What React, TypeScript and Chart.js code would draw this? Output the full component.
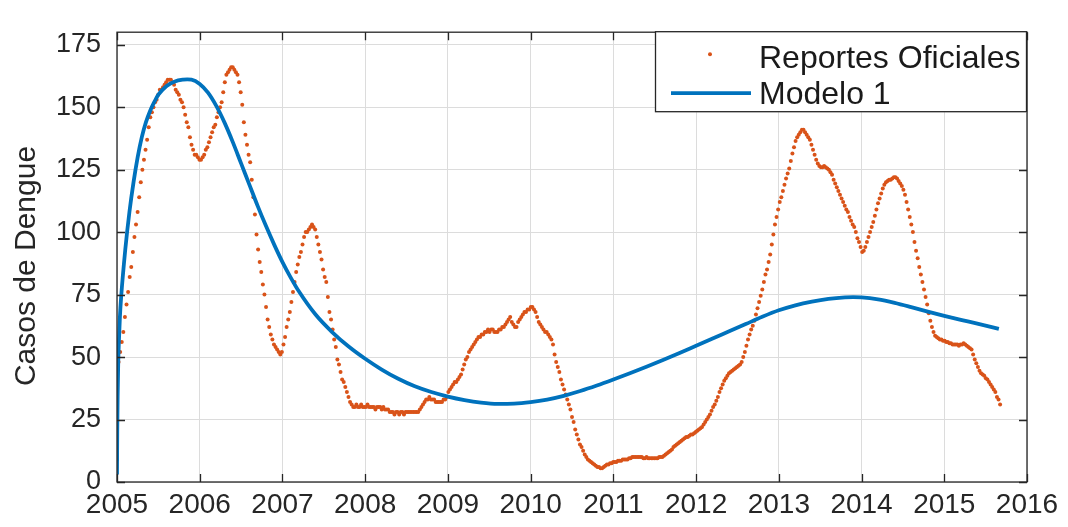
import React, { useEffect, useRef } from 'react';
import { Chart, registerables } from 'chart.js';

Chart.register(...registerables);

// Weekly official dengue reports, first week of 2005 onwards
const START_YEAR = 2005;
const WEEK_IN_YEARS = 7 / 365.25;

const reportes: number[] = [
  44, 48, 52, 56, 60, 66, 71, 76, 82, 86,
  92, 98, 103, 108, 114, 120, 125, 129, 133, 137,
  142, 146, 148, 150, 152, 153, 155, 157, 157, 158,
  159, 160, 161, 161, 161, 160, 159, 157, 156, 155,
  153, 152, 150, 147, 144, 142, 138, 135, 133, 131,
  131, 130, 129, 129, 130, 131, 133, 134, 136, 138,
  140, 142, 143, 146, 148, 150, 152, 156, 160, 163,
  164, 165, 166, 166, 165, 164, 163, 160, 156, 151,
  144, 139, 135, 131, 128, 121, 114, 107, 99, 93,
  88, 84, 79, 75, 70, 65, 62, 59, 57, 55,
  54, 53, 52, 51, 52, 55, 58, 62, 65, 68,
  72, 76, 80, 84, 87, 90, 92, 95, 98, 100,
  100, 101, 102, 103, 102, 101, 98, 95, 92, 89,
  85, 82, 80, 74, 68, 65, 61, 57, 54, 49,
  47, 44, 41, 40, 38, 36, 34, 32, 31, 30,
  30, 31, 30, 30, 31, 30, 30, 30, 31, 30,
  30, 30, 30, 29, 30, 30, 30, 29, 30, 29,
  29, 29, 28, 28, 28, 27, 28, 28, 27, 28,
  28, 27, 28, 28, 28, 28, 28, 28, 28, 28,
  28, 29, 30, 31, 32, 33, 33, 34, 33, 33,
  33, 32, 32, 32, 32, 32, 33, 33, 34, 36,
  37, 38, 39, 40, 40, 41, 42, 43, 45, 47,
  49, 50, 52, 53, 54, 55, 56, 57, 58, 58,
  59, 59, 60, 60, 61, 60, 61, 61, 60, 60,
  60, 61, 61, 62, 62, 63, 64, 65, 66, 64,
  63, 62, 62, 64, 65, 66, 67, 68, 68, 69,
  69, 70, 70, 69, 68, 66, 64, 63, 62, 61,
  60, 60, 59, 58, 57, 55, 51, 48, 46, 44,
  41, 39, 37, 35, 33, 31, 29, 26, 24, 21,
  19, 17, 15, 14, 12.5, 11, 10, 9, 8.5, 8,
  7.5, 7, 6.5, 6, 6, 5.5, 5.5, 6, 6.5, 7,
  7, 7.5, 7.5, 8, 8, 8, 8.5, 8.5, 8.5, 9,
  9, 9, 9, 9.5, 9.5, 10, 10, 10, 10, 10,
  10, 10, 9.5, 9.5, 10, 9.5, 9.5, 9.5, 9.5, 9.5,
  9.5, 9.5, 10, 10, 10, 10.5, 11, 11.5, 12, 12.5,
  13, 14, 14.5, 15, 15.5, 16, 16.5, 17, 17.5, 18,
  18, 18.5, 19, 19, 19.5, 20, 20.5, 21, 21.5, 22,
  23, 24, 25, 26, 27, 28.5, 30, 31, 32.5, 34,
  36, 37.5, 39, 40.5, 41.5, 42.5, 43.5, 44, 44.5, 45,
  45.5, 46, 46.5, 47, 48, 50, 52, 54.5, 57, 59,
  61, 62.5, 64.5, 67, 69.5, 72, 74.5, 77, 80, 83,
  85, 88, 91, 95, 99, 103, 106, 109, 112, 114,
  116.5, 119, 121.5, 123.5, 125.5, 128.5, 131.5, 134, 136.5, 138,
  139, 140, 141, 141, 140, 139, 138, 137, 135, 133,
  131, 129, 127.5, 126.5, 126, 126, 126.5, 126, 125.5, 125,
  124, 123, 121, 119.5, 118, 116.5, 115, 113.5, 112, 110.5,
  109, 108, 106, 104.5, 103, 102, 100, 97.5, 96, 94,
  92, 92.5, 94, 96, 98, 100, 102, 104, 106.5, 109,
  111.5, 113.5, 115.5, 117.5, 119, 120, 120.5, 121, 121, 121.5,
  122, 122, 121.5, 120.5, 119.5, 118.5, 117, 115, 112, 109,
  106, 103, 100, 96, 92.5, 89.5, 86, 83, 80, 77,
  74, 71, 67.5, 64.5, 62, 60, 58.5, 58, 57.5, 57,
  57, 56.5, 56.5, 56, 56, 55.5, 55.5, 55, 55, 55,
  55, 54.5, 55, 55, 55.5, 55, 54.5, 54, 53.5, 53,
  51, 49, 47.5, 46, 44.5, 43.5, 43, 42.5, 41.5, 41,
  40, 39, 38, 37, 36, 34, 33, 31,
];

// Fitted model curve (year, cases)
const modeloYears: number[] = [
  2005.0, 2005.003, 2005.008, 2005.015, 2005.025, 2005.035, 2005.05, 2005.1,
  2005.15, 2005.2, 2005.25, 2005.3, 2005.35, 2005.4, 2005.45, 2005.5,
  2005.6, 2005.7, 2005.8, 2005.85, 2005.9, 2006.0, 2006.1, 2006.2,
  2006.3, 2006.4, 2006.5, 2006.6, 2006.7, 2006.8, 2006.9, 2007.0,
  2007.1, 2007.2, 2007.4, 2007.6, 2007.8, 2008.0, 2008.2, 2008.4,
  2008.6, 2008.8, 2009.0, 2009.2, 2009.4, 2009.6, 2009.8, 2010.0,
  2010.2, 2010.4, 2010.6, 2010.8, 2011.0, 2011.2, 2011.4, 2011.6,
  2011.8, 2012.0, 2012.2, 2012.4, 2012.6, 2012.8, 2013.0, 2013.2,
  2013.4, 2013.6, 2013.8, 2013.9, 2014.0, 2014.2, 2014.4, 2014.6,
  2014.8, 2015.0, 2015.2, 2015.4, 2015.66,
];
const modeloValues: number[] = [
  3, 20, 35, 48, 58, 66, 74, 93,
  108, 120, 130, 138, 144, 148.5, 152, 155,
  158.5, 160.3, 161, 161.1, 161, 159.3, 155.8, 150.5,
  143.8, 136, 127.5, 119, 110.5, 102.5, 95, 88,
  81.8, 76.2, 67, 60, 54.2, 49.3, 45, 41.3,
  38.3, 36, 34.2, 32.8, 31.8, 31.3, 31.4, 32,
  33, 34.5, 36.4, 38.6, 41, 43.5, 46.1, 48.8,
  51.6, 54.5, 57.4, 60.3, 63.2, 66.1, 68.7, 70.7,
  72.2, 73.3, 73.9, 74, 73.9, 73.1, 71.7, 70,
  68.2, 66.5, 64.9, 63.4, 61.3,
];

const yearTicks: number[] = [2005, 2006, 2007, 2008, 2009, 2010, 2011, 2012, 2013, 2014, 2015, 2016];
const caseTicks: number[] = [0, 25, 50, 75, 100, 125, 150, 175];

const SERIES_LABELS = ['Reportes Oficiales', 'Modelo 1'];
const Y_TITLE = 'Casos de Dengue';

const ORANGE = '#D95319';
const BLUE = '#0072BD';
const AXIS_COLOR = '#262626';
const FONT = '"Liberation Sans", Arial, Helvetica, sans-serif';

const framePlugin = {
  id: 'matlabFrame',
  afterDatasetsDraw(chart: any) {
    const { ctx, chartArea: a, scales } = chart;
    ctx.save();
    ctx.strokeStyle = AXIS_COLOR;
    ctx.lineWidth = 1.3;
    const tl = 8;
    ctx.beginPath();
    yearTicks.forEach((v) => {
      const x = Math.round(scales.x.getPixelForValue(v)) + 0.5;
      ctx.moveTo(x, a.bottom);
      ctx.lineTo(x, a.bottom - tl);
      ctx.moveTo(x, a.top);
      ctx.lineTo(x, a.top + tl);
    });
    caseTicks.forEach((v) => {
      const y = Math.round(scales.y.getPixelForValue(v)) + 0.5;
      ctx.moveTo(a.left, y);
      ctx.lineTo(a.left + tl, y);
      ctx.moveTo(a.right, y);
      ctx.lineTo(a.right - tl, y);
    });
    ctx.stroke();
    ctx.strokeRect(a.left, a.top, a.right - a.left, a.bottom - a.top);
    ctx.restore();
  },
  afterDraw(chart: any) {
    const { ctx, chartArea: a } = chart;
    ctx.save();
    // y-axis title
    ctx.fillStyle = AXIS_COLOR;
    ctx.font = `30px ${FONT}`;
    ctx.textAlign = 'center';
    ctx.textBaseline = 'alphabetic';
    ctx.translate(35, 266);
    ctx.rotate(-Math.PI / 2);
    ctx.fillText(Y_TITLE, 0, 0);
    ctx.restore();

    // legend box in the upper right corner of the axes
    ctx.save();
    const w = 372;
    const h = 81;
    const bx = a.right - w;
    const by = a.top - 1;
    ctx.fillStyle = '#ffffff';
    ctx.fillRect(bx, by, w, h);
    ctx.strokeStyle = AXIS_COLOR;
    ctx.lineWidth = 1.3;
    ctx.strokeRect(bx + 0.5, by + 0.5, w - 1, h - 1);

    const ds = chart.data.datasets;
    const textX = bx + 104;
    const row1 = by + 26;
    const row2 = by + 62;
    // marker entry
    ctx.fillStyle = ds[0].pointBackgroundColor;
    ctx.beginPath();
    ctx.arc(bx + 55, row1 - 3, 2, 0, Math.PI * 2);
    ctx.fill();
    // line entry
    ctx.strokeStyle = ds[1].borderColor;
    ctx.lineWidth = ds[1].borderWidth;
    ctx.beginPath();
    ctx.moveTo(bx + 16, row2);
    ctx.lineTo(bx + 96, row2);
    ctx.stroke();

    ctx.fillStyle = '#1a1a1a';
    ctx.font = `32px ${FONT}`;
    ctx.textAlign = 'left';
    ctx.textBaseline = 'middle';
    ctx.fillText(ds[0].label, textX, row1 + 2);
    ctx.fillText(ds[1].label, textX, row2 + 2);
    ctx.restore();
  },
};

export default function App() {
  const canvasRef = useRef<HTMLCanvasElement | null>(null);

  useEffect(() => {
    const canvas = canvasRef.current;
    if (!canvas) return;

    const reportPoints = reportes.map((v, i) => ({ x: START_YEAR + i * WEEK_IN_YEARS, y: v }));
    const modelPoints = modeloYears.map((yr, i) => ({ x: yr, y: modeloValues[i] }));

    const chart = new Chart(canvas, {
      type: 'scatter',
      data: {
        datasets: [
          {
            label: SERIES_LABELS[0],
            data: reportPoints,
            showLine: false,
            pointRadius: 2,
            pointBorderWidth: 0,
            pointBackgroundColor: ORANGE,
            borderColor: ORANGE,
            order: 2,
          },
          {
            label: SERIES_LABELS[1],
            data: modelPoints,
            showLine: true,
            pointRadius: 0,
            borderColor: BLUE,
            backgroundColor: BLUE,
            borderWidth: 3.8,
            cubicInterpolationMode: 'monotone',
            order: 1,
          },
        ],
      } as any,
      plugins: [framePlugin],
      options: {
        responsive: false,
        animation: false,
        devicePixelRatio: 1,
        layout: { padding: { left: 0, right: 41, top: 8, bottom: 0 } },
        plugins: {
          legend: { display: false },
          tooltip: { enabled: false },
        },
        scales: {
          x: {
            type: 'linear',
            min: 2005,
            max: 2016,
            afterBuildTicks: (scale: any) => {
              scale.ticks = yearTicks.map((v) => ({ value: v }));
            },
            afterFit: (scale: any) => {
              scale.height = 45;
            },
            ticks: {
              callback: (v: any) => String(v),
              color: AXIS_COLOR,
              font: { family: FONT, size: 28 },
              padding: 6,
              maxRotation: 0,
              autoSkip: false,
            },
            grid: { color: '#dcdcdc', lineWidth: 1, drawTicks: false },
            border: { display: false },
          },
          y: {
            type: 'linear',
            min: 0,
            max: 180,
            afterBuildTicks: (scale: any) => {
              scale.ticks = caseTicks.map((v) => ({ value: v }));
            },
            afterFit: (scale: any) => {
              scale.width = 117;
            },
            ticks: {
              callback: (v: any) => String(v),
              color: AXIS_COLOR,
              font: { family: FONT, size: 27 },
              padding: 16,
              autoSkip: false,
            },
            grid: { color: '#dcdcdc', lineWidth: 1, drawTicks: false },
            border: { display: false },
          },
        },
      } as any,
    });

    return () => chart.destroy();
  }, []);

  return (
    <div style={{ position: 'fixed', left: 0, top: 0, width: 1068, height: 527, background: '#ffffff' }}>
      <canvas ref={canvasRef} width={1068} height={527} style={{ display: 'block' }} />
    </div>
  );
}
